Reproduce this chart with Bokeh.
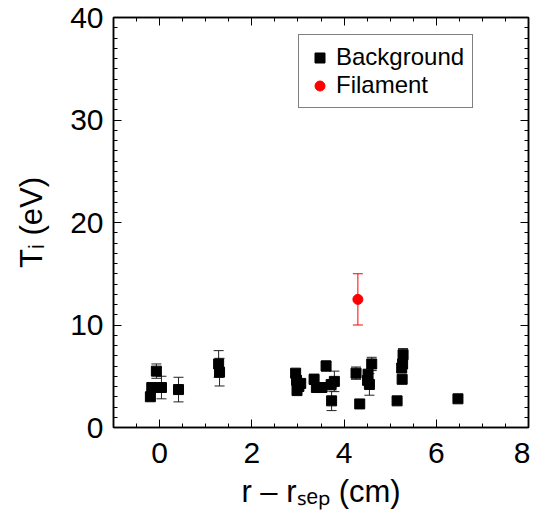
import numpy as np
from bokeh.plotting import figure
from bokeh.models import (ColumnDataSource, Whisker, TeeHead, FixedTicker, LinearAxis,
                          Range1d, Legend, LegendItem, CustomJSTickFormatter)
from bokeh.embed import file_html
from bokeh.resources import INLINE

# ---- data ----
bg_x = [-0.20, -0.17, 0.04, -0.07, 0.41, 1.28, 1.30, 2.95, 2.97, 2.98, 3.06, 3.02,
        3.35, 3.40, 3.52, 3.61, 3.72, 3.79, 3.73, 4.26, 4.34, 4.52, 4.51, 4.55, 4.60,
        5.15, 5.25, 5.28, 5.27, 5.26, 6.47]
bg_y = [3.0, 3.9, 3.9, 5.5, 3.7, 6.2, 5.4, 5.3, 4.6, 3.6, 4.3, 4.0,
        4.7, 3.9, 3.9, 6.0, 4.2, 4.5, 2.6, 5.3, 2.3, 5.2, 4.6, 4.2, 6.2,
        2.6, 5.8, 7.1, 6.2, 4.7, 2.8]
bg_err = [0.3, 0.3, 1.1, 0.7, 1.2, 1.3, 1.35, 0.3, 0.3, 0.4, 0.4, 0.3,
          0.5, 0.3, 0.4, 0.5, 0.3, 1.0, 0.95, 0.6, 0.2, 0.3, 0.3, 1.05, 0.65,
          0.2, 0.4, 0.6, 0.4, 0.3, 0.2]
fil_x = [4.30]
fil_y = [12.5]
fil_err = [2.5]

x_major = [0, 2, 4, 6, 8]
y_major = [0, 10, 20, 30, 40]

FONT = "Liberation Sans"

bg = ColumnDataSource(dict(x=bg_x, y=bg_y,
                           lo=[a - b for a, b in zip(bg_y, bg_err)],
                           hi=[a + b for a, b in zip(bg_y, bg_err)]))
fl = ColumnDataSource(dict(x=fil_x, y=fil_y,
                           lo=[a - b for a, b in zip(fil_y, fil_err)],
                           hi=[a + b for a, b in zip(fil_y, fil_err)]))

p = figure(frame_width=415, frame_height=410, x_range=Range1d(-1, 8), y_range=Range1d(0, 40),
           output_backend="svg", toolbar_location=None,
           min_border_left=113, min_border_top=17, min_border_right=2, min_border_bottom=80)
p.grid.visible = False
p.outline_line_color = "black"
p.outline_line_width = 1.5

xt = FixedTicker(ticks=x_major, minor_ticks=list(np.arange(-1, 8.01, 0.5)))
yt = FixedTicker(ticks=y_major, minor_ticks=list(np.arange(0, 40.01, 1)))

def style(ax, labels=True):
    ax.major_tick_in = 8
    ax.major_tick_out = 0
    ax.minor_tick_in = 4
    ax.minor_tick_out = 0
    ax.major_tick_line_color = "black"
    ax.minor_tick_line_color = "black"
    ax.axis_line_color = "black"
    ax.axis_line_width = 1.5
    if labels:
        ax.major_label_text_font = FONT
        ax.major_label_text_font_size = "30px"
        ax.major_label_text_color = "black"
        ax.axis_label_text_font = FONT
        ax.axis_label_text_font_size = "31px"
        ax.axis_label_text_font_style = "normal"
        ax.axis_label_text_color = "black"
    else:
        ax.formatter = CustomJSTickFormatter(code="return ''")
        ax.major_label_standoff = 0

p.xaxis.ticker = xt
p.yaxis.ticker = yt
style(p.xaxis[0]); style(p.yaxis[0])
p.xaxis.major_label_standoff = 15
p.yaxis.major_label_standoff = 10

p.xaxis.axis_label = "r \u2013 r\u209b\u2091\u209a (cm)"
p.xaxis.axis_label_standoff = 8
p.yaxis.axis_label = "T\u1d62 (eV)"
p.yaxis.axis_label_standoff = 18

top = LinearAxis(ticker=xt); style(top, False); p.add_layout(top, "above")
right = LinearAxis(ticker=yt); style(right, False); p.add_layout(right, "right")

# error bars
p.add_layout(Whisker(source=bg, base="x", upper="hi", lower="lo", dimension="height",
                     line_color="#222222", line_width=1,
                     upper_head=TeeHead(size=10, line_color="#222222", line_width=1),
                     lower_head=TeeHead(size=10, line_color="#222222", line_width=1)))
p.add_layout(Whisker(source=fl, base="x", upper="hi", lower="lo", dimension="height",
                     line_color="red", line_width=1,
                     upper_head=TeeHead(size=10, line_color="red", line_width=1),
                     lower_head=TeeHead(size=10, line_color="red", line_width=1)))

sq = p.scatter("x", "y", source=bg, marker="square", size=10, color="black")
ci = p.scatter("x", "y", source=fl, marker="circle", size=10, color="red")

legend = Legend(items=[LegendItem(label="Background", renderers=[sq]),
                       LegendItem(label="Filament", renderers=[ci])],
                location=(185, 319), padding=8, spacing=0, margin=0,
                glyph_width=25, glyph_height=27, label_height=27, label_standoff=4,
                label_text_font=FONT, label_text_font_size="24px", label_text_color="black",
                border_line_color="black", border_line_width=1.5)
p.add_layout(legend)

open("out.html", "w").write(file_html(p, INLINE))
